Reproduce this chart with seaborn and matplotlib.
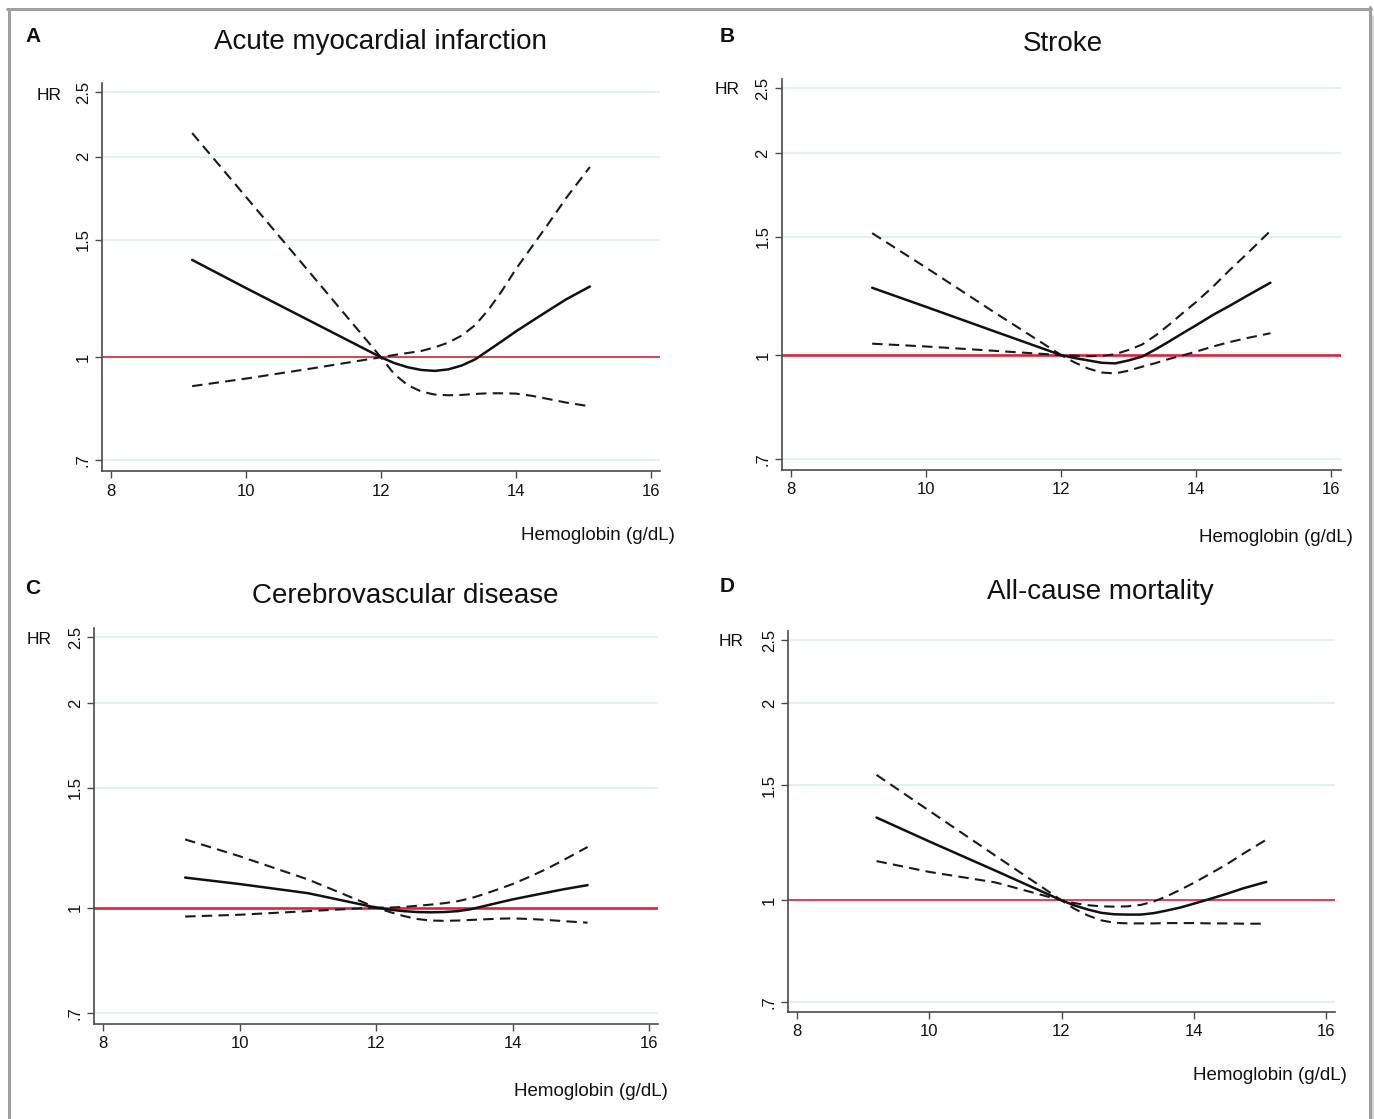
import numpy as np
import pandas as pd
import matplotlib
matplotlib.use("Agg")
import matplotlib.pyplot as plt
from matplotlib.lines import Line2D
from matplotlib.ticker import NullLocator
import seaborn as sns

sns.set_theme(style="white")
plt.rcParams['font.family'] = ['Liberation Sans', 'DejaVu Sans']

# ---------------- data ----------------
hb = [9.2, 10, 11, 12, 12.2, 12.4, 12.6, 12.8, 13.0, 13.2, 13.4, 13.6, 13.8, 14.0, 14.25, 14.5, 14.75, 15.1]

ami_hr    = [1.40, 1.27, 1.127, 1.0, 0.98, 0.966, 0.957, 0.954, 0.959, 0.972, 0.993, 1.025, 1.058, 1.093, 1.135, 1.178, 1.222, 1.277]
ami_upper = [2.17, 1.74, 1.32, 1.0, 1.008, 1.015, 1.022, 1.035, 1.052, 1.078, 1.118, 1.18, 1.26, 1.355, 1.47, 1.595, 1.735, 1.93]
ami_lower = [0.905, 0.929, 0.963, 1.0, 0.943, 0.908, 0.888, 0.879, 0.877, 0.878, 0.881, 0.883, 0.883, 0.882, 0.875, 0.865, 0.855, 0.844]

stroke_hr    = [1.26, 1.18, 1.086, 1.0, 0.99, 0.982, 0.974, 0.972, 0.982, 0.995, 1.02, 1.048, 1.078, 1.108, 1.148, 1.185, 1.225, 1.282]
stroke_upper = [1.52, 1.35, 1.16, 1.0, 0.998, 0.996, 0.997, 1.003, 1.018, 1.037, 1.07, 1.11, 1.155, 1.20, 1.265, 1.34, 1.415, 1.532]
stroke_lower = [1.04, 1.03, 1.015, 1.0, 0.975, 0.955, 0.942, 0.939, 0.948, 0.961, 0.973, 0.987, 0.999, 1.012, 1.03, 1.046, 1.06, 1.078]

cvd_hr    = [1.107, 1.083, 1.05, 1.0, 0.993, 0.988, 0.985, 0.984, 0.985, 0.988, 0.995, 1.006, 1.017, 1.028, 1.04, 1.052, 1.064, 1.079]
cvd_upper = [1.26, 1.19, 1.10, 1.0, 1.0, 1.002, 1.006, 1.01, 1.015, 1.022, 1.033, 1.048, 1.065, 1.083, 1.11, 1.14, 1.175, 1.228]
cvd_lower = [0.97, 0.976, 0.988, 1.0, 0.985, 0.972, 0.962, 0.957, 0.956, 0.957, 0.959, 0.961, 0.963, 0.964, 0.962, 0.959, 0.955, 0.95]

mort_hr    = [1.338, 1.23, 1.11, 1.0, 0.982, 0.968, 0.957, 0.952, 0.951, 0.951, 0.956, 0.965, 0.975, 0.988, 1.005, 1.023, 1.043, 1.067]
mort_upper = [1.555, 1.37, 1.17, 1.0, 0.99, 0.983, 0.979, 0.978, 0.979, 0.984, 0.996, 1.015, 1.038, 1.063, 1.098, 1.135, 1.178, 1.238]
mort_lower = [1.148, 1.105, 1.065, 1.0, 0.97, 0.948, 0.932, 0.924, 0.922, 0.922, 0.922, 0.923, 0.923, 0.923, 0.922, 0.922, 0.921, 0.921]

titles = ["Acute myocardial infarction", "Stroke", "Cerebrovascular disease", "All-cause mortality"]
letters = ["A", "B", "C", "D"]
x_ticks = [8, 10, 12, 14, 16]
y_ticks = [0.7, 1, 1.5, 2, 2.5]
y_tick_labels = [".7", "1", "1.5", "2", "2.5"]
x_label = "Hemoglobin (g/dL)"
y_label = "HR"

panels = [
    (ami_hr, ami_lower, ami_upper),
    (stroke_hr, stroke_lower, stroke_upper),
    (cvd_hr, cvd_lower, cvd_upper),
    (mort_hr, mort_lower, mort_upper),
]

# ---------------- layout (pixels) ----------------
W, H = 1374, 1119
fig = plt.figure(figsize=(W / 100, H / 100), dpi=100)

boxes = [
    (101.8, 660.0, 83, 471),
    (781.7, 1340.6, 79, 469.6),
    (93.75, 658.5, 628, 1023.5),
    (788.0, 1335.0, 631, 1012),
]
title_pos = [(380, 42), (1063, 44), (405, 596), (1100, 592)]
letter_pos = [(33, 37), (727, 36), (33, 588), (727, 587)]
hr_pos = [(49, 95), (727, 90), (39, 639), (731, 642)]
xlab_pos = [(675, 535), (1353, 538), (668, 1091), (1347, 1076)]
red_lw = [1.2, 1.9, 1.9, 1.2]

def fx(px):
    return px / W

def fy(py):
    return 1 - py / H

spine_col = "#4a4a4a"
red = "#d7263d"
grid_col = "#e6eff1"

for i, (est, lo, up) in enumerate(panels):
    l, r, t, b = boxes[i]
    ax = fig.add_axes([fx(l), fy(b), fx(r) - fx(l), fy(t) - fy(b)])
    ax.set_yscale("log")
    ax.set_xlim(7.86, 16.14)
    ax.set_ylim(0.675, 2.58)

    for yv in y_ticks:
        ax.axhline(yv, color=grid_col, lw=1.6, zorder=0)
    ax.axhline(1.0, color=red, lw=red_lw[i], zorder=1)

    sns.lineplot(x=hb, y=up, ax=ax, color="#1a1a1a", lw=1.5,
                 linestyle=(0, (5, 3)), zorder=3)
    sns.lineplot(x=hb, y=lo, ax=ax, color="#1a1a1a", lw=1.5,
                 linestyle=(0, (5, 3)), zorder=3)
    sns.lineplot(x=hb, y=est, ax=ax, color="#111111", lw=1.8, zorder=4)

    ax.set_xticks(x_ticks)
    ax.set_xticklabels([str(v) for v in x_ticks])
    ax.set_yticks(y_ticks)
    ax.set_yticklabels(y_tick_labels)
    ax.yaxis.set_minor_locator(NullLocator())
    ax.xaxis.set_minor_locator(NullLocator())
    ax.set_xlabel("")
    ax.set_ylabel("")

    for s in ["top", "right"]:
        ax.spines[s].set_visible(False)
    for s in ["left", "bottom"]:
        ax.spines[s].set_color(spine_col)
        ax.spines[s].set_linewidth(1.2)

    ax.tick_params(axis="both", which="major", direction="out", length=5,
                   width=1.0, color=spine_col, labelsize=12, labelcolor="#111111",
                   left=True, bottom=True)
    ax.tick_params(axis="y", pad=3)
    ax.tick_params(axis="x", pad=4)
    for lab in ax.get_yticklabels():
        lab.set_rotation(90)
        lab.set_va("center")
        lab.set_ha("right")
    ax.set_facecolor("white")

    tx, ty = title_pos[i]
    fig.text(fx(tx), fy(ty), titles[i], ha="center", va="center", fontsize=20, color="#111111")
    lx, ly = letter_pos[i]
    fig.text(fx(lx), fy(ly), letters[i], ha="center", va="center", fontsize=15,
             fontweight="bold", color="#111111")
    hx, hy = hr_pos[i]
    fig.text(fx(hx), fy(hy), y_label, ha="center", va="center", fontsize=12.5, color="#111111")
    xx, xy = xlab_pos[i]
    fig.text(fx(xx), fy(xy), x_label, ha="right", va="center", fontsize=13.5, color="#111111")

# grey frame around the figure
frame_col = "#a0a0a0"
lw_pt = 3.0 * 72 / 100
fig.add_artist(Line2D([fx(8.5), fx(8.5)], [fy(8.5), fy(H + 5)], color=frame_col, lw=lw_pt))
fig.add_artist(Line2D([fx(7), fx(1371)], [fy(8.5), fy(8.5)], color=frame_col, lw=lw_pt))
fig.add_artist(Line2D([fx(1369.5), fx(1369.5)], [fy(7), fy(H + 5)], color=frame_col, lw=lw_pt))
fig.add_artist(Line2D([fx(1372.5), fx(1372.5)], [fy(16), fy(H + 5)], color="#d4d4d4", lw=lw_pt))

fig.savefig("out.png", dpi=100, facecolor="white")
